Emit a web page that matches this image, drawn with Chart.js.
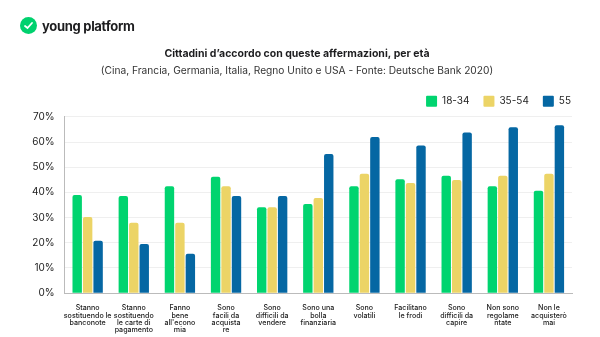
<!DOCTYPE html>
<html>
<head>
<meta charset="utf-8">
<script src="https://cdn.jsdelivr.net/npm/chart.js@4"></script>
<style>
  body { margin: 0; background: #fff; font-family: Inter, "Noto Sans", sans-serif; }
  #wrap { position: relative; width: 600px; height: 337px; }
  .logo { position: absolute; left: 20px; top: 17px; display: flex; align-items: center; gap: 5px;
          font-weight: 700; font-size: 13px; color: #1d1d1f; letter-spacing: -0.3px; }
</style>
</head>
<body>
<div id="wrap">
  <div class="logo">
    <svg width="17" height="17" viewBox="0 0 17 17">
      <circle cx="8.5" cy="8.5" r="8.5" fill="#00d16e"/>
      <path d="M5 9 L7.5 11 L12 6" stroke="#fff" stroke-width="1.8" fill="none" stroke-linecap="round"/>
    </svg>
    <span>young platform</span>
  </div>
  <canvas id="chart" width="600" height="337"></canvas>
</div>
<script>
// categories (x axis, multi-line)
const categories = [
  ["Stanno", "sostituendo le", "banconote"],
  ["Stanno", "sostituendo", "le carte di", "pagamento"],
  ["Fanno", "bene", "all'econo", "mia"],
  ["Sono", "facili da", "acquista", "re"],
  ["Sono", "difficili da", "vendere"],
  ["Sono una", "bolla", "finanziaria"],
  ["Sono", "volatili"],
  ["Facilitano", "le frodi"],
  ["Sono", "difficili da", "capire"],
  ["Non sono", "regolame", "ntate"],
  ["Non le", "acquisterò", "mai"]
];

// values in %
const age18to34 = [39, 38.6, 42.4, 46.2, 34.1, 35.4, 42.4, 45.2, 46.6, 42.4, 40.7];
const age35to54 = [30.2, 28, 28, 42.4, 34.1, 37.8, 47.4, 43.7, 44.9, 46.6, 47.4];
const age55 = [20.8, 19.5, 15.7, 38.6, 38.6, 55.2, 62, 58.6, 63.8, 65.9, 66.7];

const seriesNames = ["18-34", "35-54", "55"];
const yTicks = [0, 10, 20, 30, 40, 50, 60, 70];

const titleText = "Cittadini d\u2019accordo con queste affermazioni, per età";
const subtitleText = "(Cina, Francia, Germania, Italia, Regno Unito e USA - Fonte: Deutsche Bank 2020)";

const font = "Inter, 'Noto Sans', sans-serif";

// nudge the legend to the right edge of the plot (drop trailing item padding)
const legendShift = {
  id: "legendShift",
  afterLayout(chart) {
    if (chart.legend) {
      chart.legend.left += 13;
      chart.legend.right += 13;
    }
  }
};

new Chart(document.getElementById("chart"), {
  type: "bar",
  data: {
    labels: categories,
    datasets: [
      { label: seriesNames[0], data: age18to34, backgroundColor: "#00d46f" },
      { label: seriesNames[1], data: age35to54, backgroundColor: "#ecd466" },
      { label: seriesNames[2], data: age55, backgroundColor: "#0567a3" }
    ]
  },
  plugins: [legendShift],
  options: {
    responsive: false,
    animation: false,
    layout: { padding: { top: 48, left: 22, right: 28, bottom: 0 } },
    datasets: {
      bar: {
        categoryPercentage: 0.68,
        barPercentage: 0.9,
        borderRadius: { topLeft: 2, topRight: 2 },
        borderSkipped: "bottom"
      }
    },
    plugins: {
      title: {
        display: true,
        text: titleText,
        color: "#1d1d1f",
        font: { family: font, size: 10.5, weight: "bold" },
        padding: { top: 0, bottom: 4 }
      },
      subtitle: {
        display: true,
        text: subtitleText,
        color: "#333",
        font: { family: font, size: 10.2 },
        padding: { bottom: 5 }
      },
      legend: {
        align: "end",
        labels: {
          boxWidth: 11,
          boxHeight: 11,
          padding: 14,
          color: "#222",
          font: { family: font, size: 10 },
          useBorderRadius: true,
          borderRadius: 1
        }
      },
      tooltip: { enabled: false }
    },
    scales: {
      x: {
        grid: { display: false },
        border: { color: "#bbb" },
        ticks: {
          color: "#222",
          maxRotation: 0,
          autoSkip: false,
          padding: 3,
          font: { family: font, size: 7.1, weight: "500", lineHeight: 1.05 }
        }
      },
      y: {
        min: 0,
        max: 70,
        afterBuildTicks: (axis) => { axis.ticks = yTicks.map(v => ({ value: v })); },
        grid: { color: "#efefef", drawTicks: false },
        border: { color: "#bbb" },
        ticks: {
          color: "#222",
          padding: 10,
          font: { family: font, size: 10 },
          callback: (v) => v + "%"
        }
      }
    }
  }
});
</script>
</body>
</html>
